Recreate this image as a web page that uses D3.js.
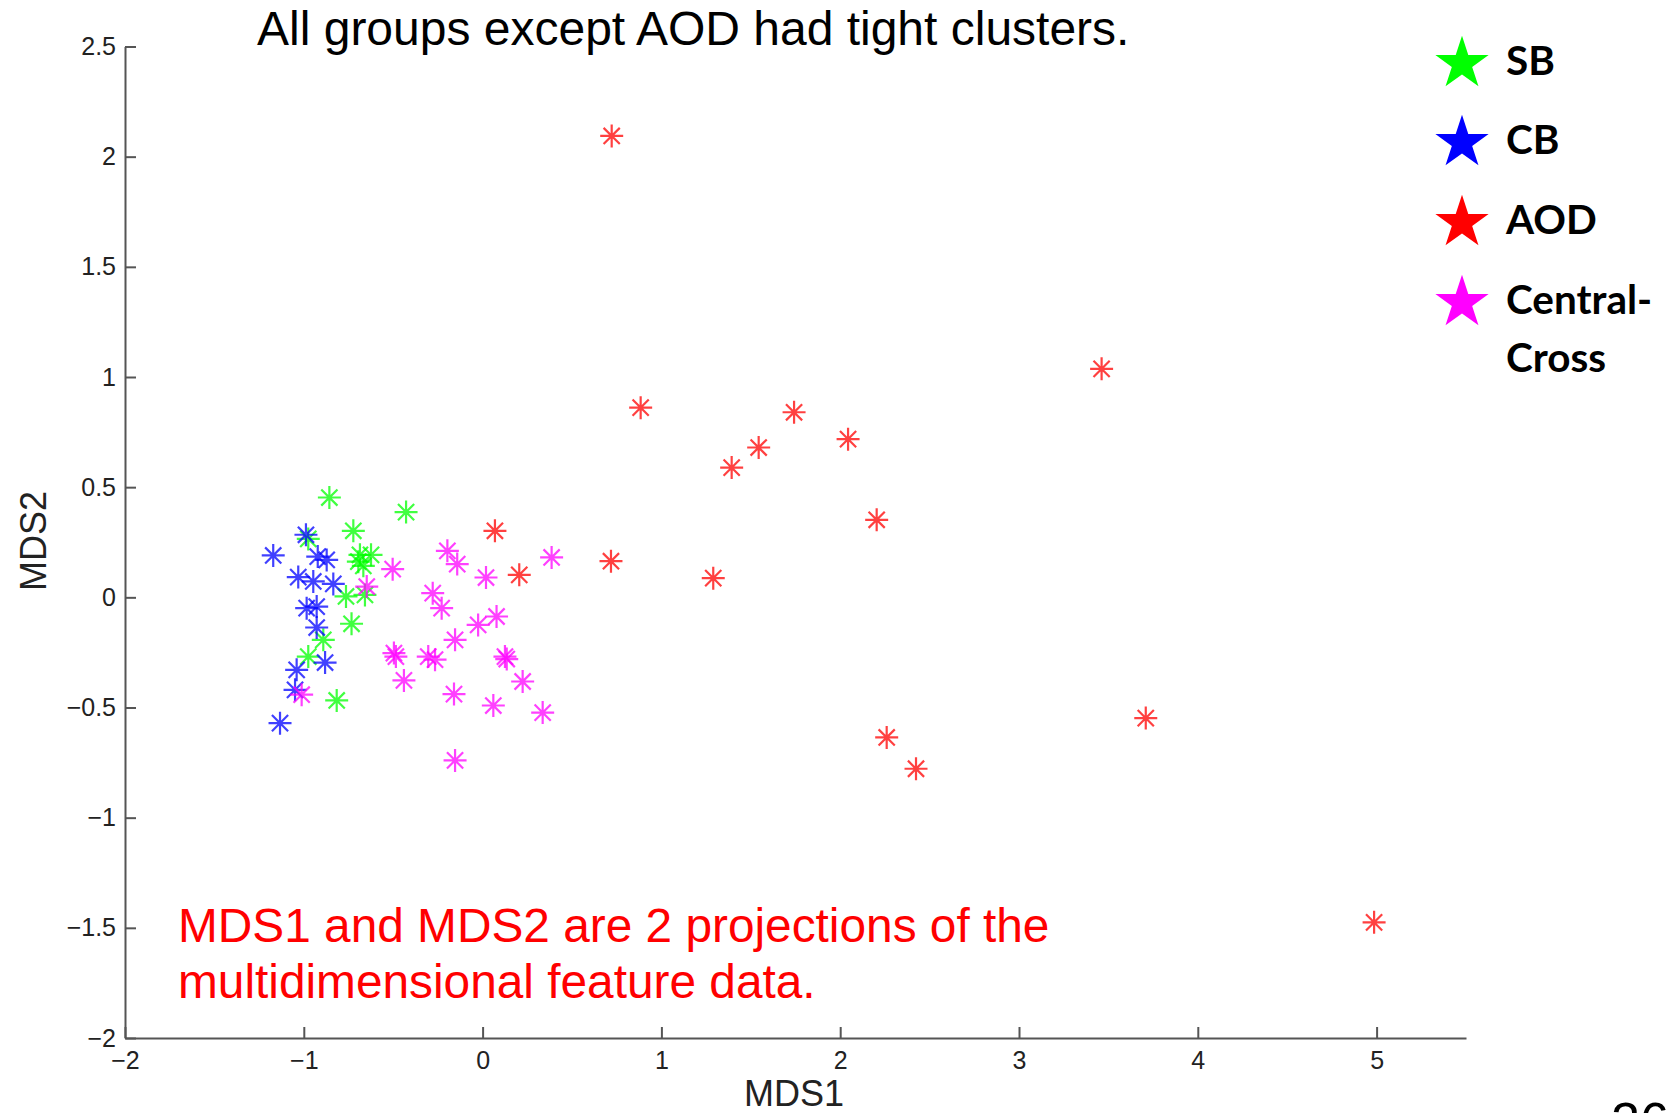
<!DOCTYPE html>
<html>
<head>
<meta charset="utf-8">
<script src="https://cdn.jsdelivr.net/npm/d3@7"></script>
<style>
  body { margin: 0; background: #fff; }
  svg { display: block; }
</style>
</head>
<body>
<div id="chart"></div>
<script>
// MDS projection values (MDS1, MDS2)
var sbPoints = [
  [-0.857, 0.453], [-0.428, 0.387], [-0.723, 0.302], [-0.975, 0.265],
  [-0.686, 0.193], [-0.624, 0.193], [-0.695, 0.162], [-0.667, 0.143],
  [-0.764, 0.004], [-0.658, 0.011], [-0.733, -0.120], [-0.891, -0.193],
  [-0.975, -0.269], [-0.816, -0.468]
];
var cbPoints = [
  [-1.171, 0.190], [-0.988, 0.284], [-0.922, 0.185], [-0.872, 0.170],
  [-1.031, 0.092], [-0.947, 0.072], [-0.835, 0.061], [-0.984, -0.049],
  [-0.928, -0.042], [-0.928, -0.137], [-0.881, -0.296], [-1.040, -0.329],
  [-1.049, -0.420], [-1.133, -0.571]
];
var aodPoints = [
  [0.722, 2.094], [0.884, 0.861], [1.742, 0.840], [1.544, 0.680],
  [1.393, 0.589], [2.044, 0.718], [2.204, 0.352], [0.718, 0.164],
  [1.290, 0.087], [3.462, 1.037], [3.709, -0.548], [2.260, -0.636],
  [2.424, -0.778], [4.986, -1.475], [0.069, 0.302], [0.205, 0.102]
];
var ccPoints = [
  [-1.012, -0.442], [-0.648, 0.049], [-0.503, 0.128], [-0.197, 0.211],
  [-0.142, 0.151], [0.019, 0.090], [0.386, 0.181], [-0.279, 0.019],
  [-0.229, -0.049], [-0.025, -0.125], [0.078, -0.087], [-0.154, -0.193],
  [-0.496, -0.253], [-0.485, -0.269], [-0.304, -0.269], [-0.266, -0.283],
  [0.125, -0.269], [0.135, -0.280], [-0.440, -0.377], [0.224, -0.382],
  [-0.160, -0.439], [0.060, -0.491], [0.336, -0.523], [-0.154, -0.740]
];

var groupNames = ["SB", "CB", "AOD", "Central-Cross"];
var groupColors = ["#00ff00", "#0000ff", "#ff0000", "#ff00ff"];
var groupData = [sbPoints, cbPoints, aodPoints, ccPoints];

var xTicks = [-2, -1, 0, 1, 2, 3, 4, 5];
var yTicks = [-2, -1.5, -1, -0.5, 0, 0.5, 1, 1.5, 2, 2.5];

var width = 1678,
    height = 1113;

var svg = d3.select("#chart")
  .append("svg")
  .attr("width", width)
  .attr("height", height);

svg.append("rect")
  .attr("width", width)
  .attr("height", height)
  .attr("fill", "#fff");

var x = d3.scaleLinear().domain([-2, 5.5]).range([125, 1466]);
var y = d3.scaleLinear().domain([-2, 2.5]).range([1038, 46.5]);

var fmt = d3.format("~g");

// axes, ticks pointing inward like matlab
var xAxis = svg.append("g")
  .attr("transform", "translate(0," + y(-2) + ")")
  .call(d3.axisBottom(x).tickValues(xTicks).tickFormat(fmt)
    .tickSizeInner(-11).tickSizeOuter(0).tickPadding(13));

var yAxis = svg.append("g")
  .attr("transform", "translate(" + x(-2) + ",0)")
  .call(d3.axisLeft(y).tickValues(yTicks).tickFormat(fmt)
    .tickSizeInner(-11).tickSizeOuter(0).tickPadding(9));

[xAxis, yAxis].forEach(function(a) {
  a.select(".domain").attr("stroke", "#555").attr("stroke-width", 2);
  a.selectAll(".tick line").attr("stroke", "#555").attr("stroke-width", 2);
  a.selectAll(".tick text")
    .attr("fill", "#222")
    .style("font-family", "'Liberation Sans', Arial, sans-serif")
    .style("font-size", "25px");
});

// axis labels
svg.append("text")
  .attr("x", 794)
  .attr("y", 1106)
  .attr("text-anchor", "middle")
  .style("font-family", "'Liberation Sans', Arial, sans-serif")
  .style("font-size", "36px")
  .attr("fill", "#222")
  .text("MDS1");

svg.append("text")
  .attr("transform", "translate(46,541) rotate(-90)")
  .attr("text-anchor", "middle")
  .style("font-family", "'Liberation Sans', Arial, sans-serif")
  .style("font-size", "36px")
  .attr("fill", "#222")
  .text("MDS2");

// asterisk marker (matlab '*')
var r = 11.5, d = 8.1;
var asterisk = "M" + (-r) + ",0H" + r +
               "M0," + (-r) + "V" + r +
               "M" + (-d) + "," + (-d) + "L" + d + "," + d +
               "M" + (-d) + "," + d + "L" + d + "," + (-d);

groupData.forEach(function(pts, i) {
  svg.append("g")
    .selectAll("path")
    .data(pts)
    .enter()
    .append("path")
    .attr("d", asterisk)
    .attr("transform", function(p) {
      return "translate(" + x(p[0]) + "," + y(p[1]) + ")";
    })
    .attr("fill", "none")
    .attr("stroke", groupColors[i])
    .attr("stroke-width", 2.2)
    .attr("stroke-opacity", 0.75);
});

// title
svg.append("text")
  .attr("x", 257)
  .attr("y", 45)
  .style("font-family", "'Liberation Sans', Arial, sans-serif")
  .style("font-size", "48px")
  .attr("fill", "#000")
  .text("All groups except AOD had tight clusters.");

// red note
var note = svg.append("text")
  .style("font-family", "'Liberation Sans', Arial, sans-serif")
  .style("font-size", "47.8px")
  .attr("fill", "#ff0000");
note.append("tspan").attr("x", 178).attr("y", 942)
  .text("MDS1 and MDS2 are 2 projections of the");
note.append("tspan").attr("x", 178).attr("y", 998)
  .text("multidimensional feature data.");

// legend with filled stars
var star = d3.symbol().type(d3.symbolStar).size(880);
var legendY = [63.7, 142.7, 222.7, 302.7];
var legend = svg.append("g");
legend.selectAll("path")
  .data(groupNames)
  .enter()
  .append("path")
  .attr("d", star)
  .attr("transform", function(n, i) { return "translate(1462," + legendY[i] + ")"; })
  .attr("fill", function(n, i) { return groupColors[i]; });

var labelLines = [["SB"], ["CB"], ["AOD"], ["Central-", "Cross"]];
legend.selectAll("text")
  .data(labelLines)
  .enter()
  .append("text")
  .style("font-family", "Lato, 'Open Sans', sans-serif")
  .style("font-weight", "700")
  .style("font-size", "40.5px")
  .attr("fill", "#000")
  .each(function(lines, i) {
    var t = d3.select(this);
    lines.forEach(function(s, j) {
      t.append("tspan")
        .attr("x", 1506)
        .attr("y", legendY[i] + 11.5 + j * 58)
        .text(s);
    });
  });

// slide number, cut off at the bottom
svg.append("text")
  .attr("x", 1611)
  .attr("y", 1139)
  .style("font-family", "'Liberation Sans', Arial, sans-serif")
  .style("font-size", "52px")
  .attr("fill", "#000")
  .text("26");
</script>
</body>
</html>
